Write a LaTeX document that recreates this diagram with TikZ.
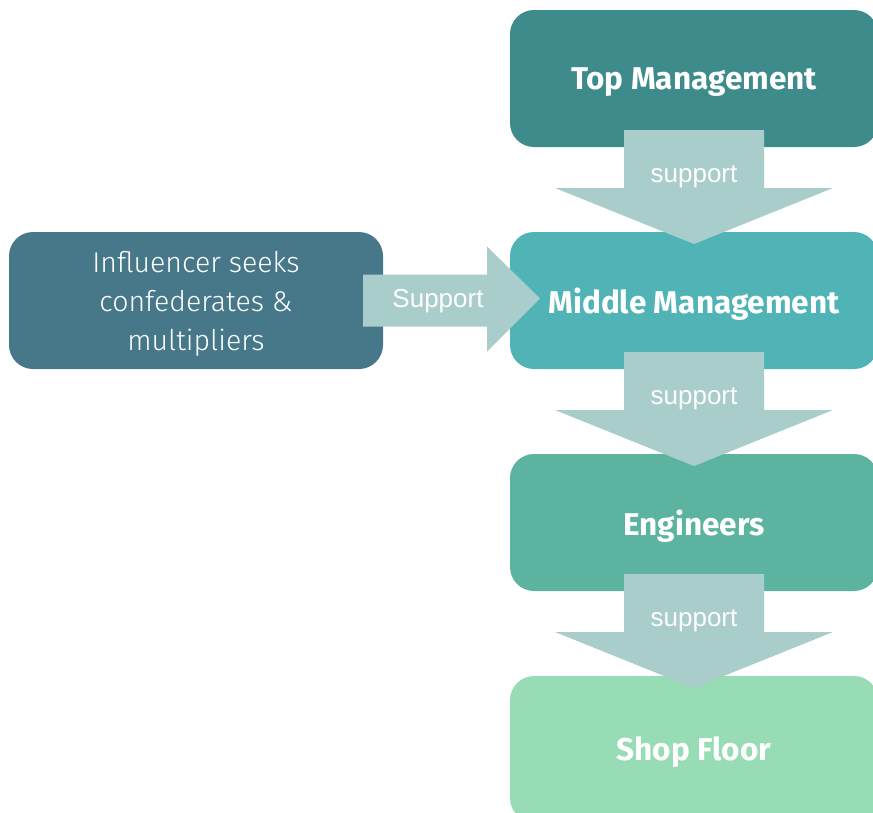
\documentclass[tikz,border=0pt]{standalone}
\usepackage{fontspec}
\setmainfont{Fira Sans}
\newfontfamily\lightfont{Fira Sans Light}
\newfontfamily\arrowfont{Liberation Sans}
\usetikzlibrary{positioning, calc}

\definecolor{topcol}{HTML}{3E8B8B}
\definecolor{midcol}{HTML}{50B4B7}
\definecolor{engcol}{HTML}{5CB4A0}
\definecolor{shopcol}{HTML}{98DCB5}
\definecolor{infcol}{HTML}{467889}
\definecolor{suppcol}{HTML}{A8CDCA}

% broad downward arrow from one level box to the next
\newcommand{\supportarrow}[3]{%
    \fill[supp] ($(#1.south)+(-70,17)$) -- ($(#1.south)+(70,17)$)
        -- ($(#1.south)+(70,-41)$) -- ($(#1.south)+(139,-41)$)
        -- ($(#2.north)+(0,-12)$)
        -- ($(#1.south)+(-139,-41)$) -- ($(#1.south)+(-70,-41)$) -- cycle;
    \node[supplbl] (#3) at ($(#1.south)+(0,-30)$) {support};
}

\begin{document}
\begin{tikzpicture}[
        x=1pt, y=1pt,
        node distance=85pt and 127pt,
        every node/.style={text=white},
        level/.style={
            rectangle, rounded corners=24pt, inner sep=0pt, outer sep=0pt,
            minimum width=368pt, minimum height=137pt, text depth=0pt,
            font=\fontsize{31.5}{36}\selectfont\bfseries
        },
        infobox/.style={
            level, minimum width=374pt, align=center,
            font=\lightfont\fontsize{28.5}{39}\selectfont
        },
        supp/.style={fill=suppcol},
        supplbl/.style={font=\arrowfont\fontsize{26}{30}\selectfont}
        ]

    \useasboundingbox (0,0) rectangle (873,-812);
    \clip (0,0) rectangle (873,-812);

    % --- hierarchy ---
        \node[level, fill=topcol] (top) at (694,-78.5) {Top Management};
        \node[level, fill=midcol, below=of top] (middle) {Middle Management};
        \node[level, fill=engcol, below=of middle] (eng) {Engineers};
        \node[level, fill=shopcol, below=of eng, minimum height=146pt] (shop) {Shop Floor};

    % --- influencer on the side ---
        \node[infobox, fill=infcol, left=of middle] (influencer)
            {Influencer seeks\\confederates \&\\multipliers};

    % --- support arrows ---
        \supportarrow{top}{middle}{s1}
        \supportarrow{middle}{eng}{s2}
        \supportarrow{eng}{shop}{s3}

        \fill[supp] ($(influencer.east)+(-20,26)$) -- ($(middle.west)+(-23,26)$)
            -- ($(middle.west)+(-23,54)$) -- ($(middle.west)+(30,2)$)
            -- ($(middle.west)+(-23,-51)$) -- ($(middle.west)+(-23,-26)$)
            -- ($(influencer.east)+(-20,-26)$) -- cycle;
        \node[supplbl] (s0) at ($(influencer.east)+(55,-1)$) {Support};

\end{tikzpicture}
\end{document}
